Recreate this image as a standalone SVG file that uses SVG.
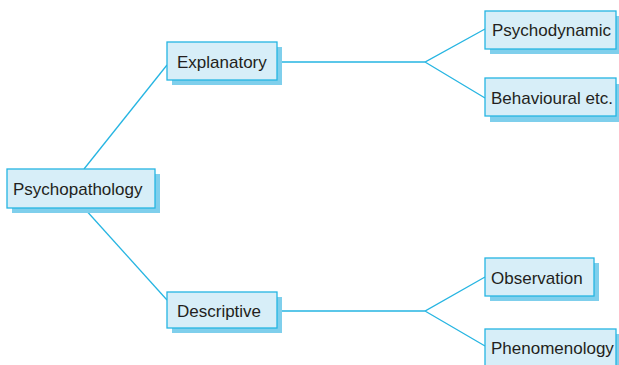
<svg xmlns="http://www.w3.org/2000/svg" width="619" height="365" viewBox="0 0 619 365">
<style>
.sh{fill:#7fcfec}
.bx{fill:#d7eef8;stroke:#26b5e2;stroke-width:1.3}
.t{font-family:"Liberation Sans",Arial,sans-serif;font-size:17px;fill:#231f20}
.c{fill:none;stroke:#26b5e2;stroke-width:1.3}
</style>
<rect width="619" height="365" fill="#fff"/>
<g id="connectors">
<path class="c" d="M84,169 L167,65"/>
<path class="c" d="M84,208 L167,300"/>
<path class="c" d="M277,62 H425 L485,29 M425,62 L485,98"/>
<path class="c" d="M277,311 H425 L485,277 M425,311 L485,346"/>
</g>
<g id="psychopathology">
<rect class="sh" x="12" y="174" width="148" height="39"/>
<rect class="bx" x="7" y="169" width="148" height="39"/>
<text class="t" x="13" y="194.5">Psychopathology</text>
</g>
<g id="explanatory">
<rect class="sh" x="172" y="47" width="110" height="38"/>
<rect class="bx" x="167" y="42" width="110" height="38"/>
<text class="t" x="177" y="67.5">Explanatory</text>
</g>
<g id="descriptive">
<rect class="sh" x="172" y="297" width="110" height="36"/>
<rect class="bx" x="167" y="292" width="110" height="36"/>
<text class="t" x="177" y="316.5">Descriptive</text>
</g>
<g id="psychodynamic">
<rect class="sh" x="490" y="16" width="135" height="38"/>
<rect class="bx" x="485" y="11" width="131" height="38"/>
<text class="t" x="492" y="36">Psychodynamic</text>
</g>
<g id="behavioural">
<rect class="sh" x="490" y="84" width="135" height="38"/>
<rect class="bx" x="485" y="78" width="131" height="38"/>
<text class="t" x="491" y="103.5">Behavioural etc.</text>
</g>
<g id="observation">
<rect class="sh" x="490" y="263" width="109" height="38"/>
<rect class="bx" x="485" y="258" width="109" height="38"/>
<text class="t" x="491" y="283.5">Observation</text>
</g>
<g id="phenomenology">
<rect class="sh" x="490" y="334" width="135" height="38"/>
<rect class="bx" x="485" y="329" width="131" height="38"/>
<text class="t" x="491" y="353.5">Phenomenology</text>
</g>
</svg>
